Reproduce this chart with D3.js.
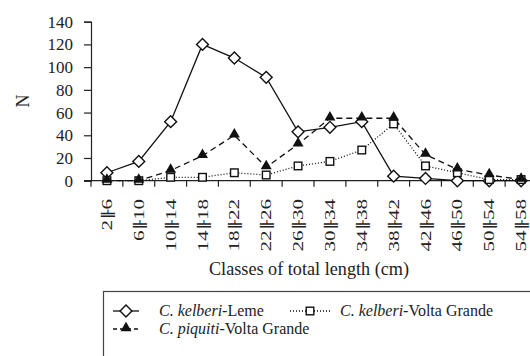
<!DOCTYPE html>
<html>
<head>
<meta charset="utf-8">
<script src="https://cdn.jsdelivr.net/npm/d3@7"></script>
<style>
  body { margin: 0; background: #fff; }
</style>
</head>
<body>
<div id="chart"></div>
<script>
const width = 530;
const height = 356;
const serif = "Liberation Serif";

// Length classes (cm)
const classStarts = [2, 6, 10, 14, 18, 22, 26, 30, 34, 38, 42, 46, 50, 54];
const classLabels = classStarts.map(s => [s, s + 4]);

// Number of fish per class
const kelberiLeme = [7, 17, 52, 120, 108, 91, 43, 47, 52, 4, 2, 0, 0, 0];
const kelberiVolta = [0, 0, 3, 3, 7, 5, 13, 17, 27, 50, 13, 7, 1, 1];
const piquitiVolta = [0, 0, 9, 22, 40, 12, 32, 55, 55, 55, 23, 10, 5, 1];

const yTicks = [0, 20, 40, 60, 80, 100, 120, 140];

const series = [
  { name: ["C. kelberi", "-Leme"], values: kelberiLeme, marker: "diamond", dash: null },
  { name: ["C. kelberi", "-Volta Grande"], values: kelberiVolta, marker: "square", dash: "1,2" },
  { name: ["C. piquiti", "-Volta Grande"], values: piquitiVolta, marker: "triangle", dash: "6,4" }
];

const svg = d3.select("#chart").append("svg")
  .attr("width", width)
  .attr("height", height)
  .attr("font-family", serif);

const x = d3.scaleBand()
  .domain(classStarts)
  .range([91, 537])
  .padding(0);

const y = d3.scaleLinear()
  .domain([0, 140])
  .range([180.7, 21.7]);

const cx = d => x(d) + x.bandwidth() / 2;

// y axis
const yAxis = svg.append("g")
  .attr("transform", `translate(${x.range()[0]},0)`)
  .call(d3.axisLeft(y).tickValues(yTicks).tickSize(7).tickPadding(11));
yAxis.attr("font-family", serif).attr("font-size", 17);
yAxis.select(".domain").attr("stroke", "#222").attr("stroke-width", 1.2);
yAxis.selectAll(".tick line").attr("stroke", "#222").attr("stroke-width", 1.2);
yAxis.selectAll(".tick text").attr("fill", "#222");

// x axis: line plus ticks at class boundaries
svg.append("line")
  .attr("x1", 84).attr("x2", x.range()[1])
  .attr("y1", y(0)).attr("y2", y(0))
  .attr("stroke", "#222").attr("stroke-width", 1.2);

svg.append("g").selectAll("line")
  .data(classStarts)
  .join("line")
  .attr("x1", d => x(d)).attr("x2", d => x(d))
  .attr("y1", y(0)).attr("y2", y(0) + 6)
  .attr("stroke", "#222").attr("stroke-width", 1.2);

// rotated class labels
const xLabels = svg.append("g").selectAll("text")
  .data(classLabels)
  .join("text")
  .attr("transform", d => `translate(${cx(d[0]) + 5},199) rotate(-90) scale(1.32,0.92)`)
  .attr("text-anchor", "end")
  .attr("fill", "#222")
  .attr("font-family", serif)
  .attr("font-size", 16);
xLabels.append("tspan").text(d => d[0]);
xLabels.append("tspan")
  .attr("font-family", "DejaVu Sans")
  .attr("font-weight", "bold")
  .attr("font-size", 13)
  .text("\u255F");
xLabels.append("tspan").text(d => d[1]);

// axis titles
svg.append("text")
  .attr("x", 309).attr("y", 275)
  .attr("text-anchor", "middle")
  .attr("fill", "#222")
  .attr("font-family", serif)
  .attr("font-size", 18.2)
  .text("Classes of total length (cm)");

svg.append("text")
  .attr("transform", "translate(29,101) rotate(-90)")
  .attr("text-anchor", "middle")
  .attr("fill", "#222")
  .attr("font-family", serif)
  .attr("font-size", 18)
  .text("N");

function drawMarker(g, type) {
  if (type === "diamond") {
    g.append("rect")
      .attr("x", -4.2).attr("y", -4.2).attr("width", 8.4).attr("height", 8.4)
      .attr("transform", "rotate(45)")
      .attr("fill", "#fff").attr("stroke", "#111").attr("stroke-width", 1.4);
  } else if (type === "square") {
    g.append("rect")
      .attr("x", -3.8).attr("y", -3.8).attr("width", 7.6).attr("height", 7.6)
      .attr("fill", "#fff").attr("stroke", "#111").attr("stroke-width", 1.4);
  } else {
    g.append("path")
      .attr("d", d3.symbol(d3.symbolTriangle, 52)())
      .attr("transform", "translate(0,-1)")
      .attr("fill", "#111");
  }
}

const line = d3.line()
  .x((d, i) => cx(classStarts[i]))
  .y(d => y(d));

const plot = svg.append("g");
series.forEach(s => {
  plot.append("path")
    .datum(s.values)
    .attr("d", line)
    .attr("fill", "none")
    .attr("stroke", "#111")
    .attr("stroke-width", 1.3)
    .attr("stroke-dasharray", s.dash);
});
series.forEach(s => {
  plot.append("g").selectAll("g")
    .data(s.values)
    .join("g")
    .attr("transform", (d, i) => `translate(${cx(classStarts[i])},${y(d)})`)
    .each(function () { drawMarker(d3.select(this), s.marker); });
});

// legend (box runs off the picture at right and bottom)
const legend = svg.append("g");
legend.append("rect")
  .attr("x", 103.5).attr("y", 291.5)
  .attr("width", 460).attr("height", 100)
  .attr("fill", "none").attr("stroke", "#444").attr("stroke-width", 1.2);

const legendItems = [
  { s: series[0], x: 113, w: 26, tx: 159, ty: 311 },
  { s: series[1], x: 290, w: 40, tx: 340, ty: 311 },
  { s: series[2], x: 113, w: 26, tx: 159, ty: 329 }
];

legendItems.forEach(it => {
  legend.append("line")
    .attr("x1", it.x).attr("x2", it.x + it.w)
    .attr("y1", it.ty).attr("y2", it.ty)
    .attr("stroke", "#111").attr("stroke-width", 1.3)
    .attr("stroke-dasharray", it.s.dash === "6,4" ? "4,3" : it.s.dash);
  drawMarker(legend.append("g").attr("transform", `translate(${it.x + it.w / 2},${it.ty})`), it.s.marker);
  const t = legend.append("text")
    .attr("x", it.tx).attr("y", it.ty + 5)
    .attr("fill", "#222")
    .attr("font-family", serif)
    .attr("font-size", 16);
  t.append("tspan").attr("font-style", "italic").text(it.s.name[0]);
  t.append("tspan").text(it.s.name[1]);
});
</script>
</body>
</html>
